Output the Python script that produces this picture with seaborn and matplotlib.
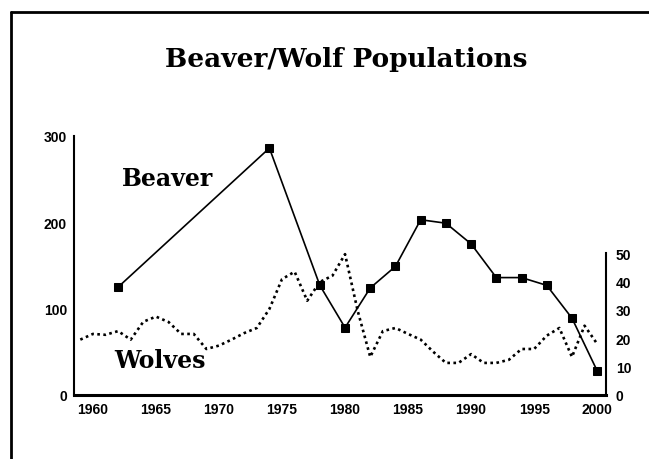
import seaborn as sns
import matplotlib.pyplot as plt
from matplotlib.lines import Line2D

# beaver counts (left axis)
beaver_years = [1962, 1974, 1978, 1980, 1982, 1984, 1986, 1988, 1990, 1992, 1994, 1996, 1998, 2000]
beaver_counts = [125, 286, 127, 78, 124, 149, 203, 199, 175, 136, 136, 127, 89, 28]

# wolf counts (right axis)
wolf_years = list(range(1959, 2001))
wolf_counts = [19.5, 21.5, 21.2, 22.5, 19.5, 25.8, 27.6, 25.7, 21.5, 21.5,
               16.2, 17.4, 19.5, 21.8, 23.6, 30.3, 40.8, 43.4, 33.2, 39.8,
               42.0, 49.6, 29.7, 13.4, 22.5, 23.6, 21.5, 19.5, 15.2, 11.3,
               11.3, 14.4, 11.3, 11.3, 12.4, 16.2, 16.2, 20.9, 23.6, 13.4,
               24.4, 18.0]

year_ticks = [1960, 1965, 1970, 1975, 1980, 1985, 1990, 1995, 2000]
beaver_ticks = [0, 100, 200, 300]
wolf_ticks = [0, 10, 20, 30, 40, 50]

sns.set_style("white")
plt.rcParams['font.family'] = ['Liberation Sans', 'DejaVu Sans']
plt.rcParams['text.color'] = 'black'
plt.rcParams['xtick.color'] = 'black'
plt.rcParams['ytick.color'] = 'black'

W, H = 649, 460
fig = plt.figure(figsize=(W / 100, H / 100), dpi=100)
ax = fig.add_axes([74 / W, 1 - 396 / H, (606 - 74) / W, (396 - 137) / H])

sns.lineplot(x=beaver_years, y=beaver_counts, ax=ax, color='black', linewidth=1.2,
             marker='s', markersize=6, markeredgecolor='black', zorder=3)
ax.set_xlim(1958.5, 2000.7)
ax.set_ylim(0, 300)
ax.set_xticks(year_ticks)
ax.set_yticks(beaver_ticks)
ax.tick_params(length=0, labelsize=10, pad=5)
for lbl in ax.get_xticklabels() + ax.get_yticklabels():
    lbl.set_fontweight('bold')
for s in ['top', 'right']:
    ax.spines[s].set_visible(False)
ax.spines['left'].set_linewidth(1.5)
ax.spines['bottom'].set_linewidth(2.2)
ax.spines['left'].set_color('black')
ax.spines['bottom'].set_color('black')

ax2 = ax.twinx()
sns.lineplot(x=wolf_years, y=wolf_counts, ax=ax2, color='black', linewidth=1.9,
             linestyle=(0, (1, 1.3)))
ax2.set_ylim(0, 50 * 259 / 142)
ax2.set_yticks(wolf_ticks)
ax2.tick_params(length=0, labelsize=10, pad=7)
for lbl in ax2.get_yticklabels():
    lbl.set_fontweight('bold')
for s in ['top', 'left', 'bottom']:
    ax2.spines[s].set_visible(False)
ax2.spines['right'].set_bounds(0, 50)
ax2.spines['right'].set_linewidth(1.5)
ax2.spines['right'].set_color('black')
ax2.set_ylabel('')

serif = ['DejaVu Serif']
ax.text(1962.3, 243, 'Beaver', fontsize=17, fontweight='bold', family=serif,
        color='black', ha='left', va='baseline', zorder=5)
ax.text(1961.7, 32, 'Wolves', fontsize=17, fontweight='bold', family=serif,
        color='black', ha='left', va='baseline', zorder=5)
fig.text(346 / W, 1 - 67 / H, 'Beaver/Wolf Populations', fontsize=19, fontweight='bold',
         family=serif, color='black', ha='center', va='baseline')

# page frame (runs off the right and bottom edges)
fx, fy = 11 / W, 1 - 13 / H
fig.add_artist(Line2D([fx, fx], [0, fy], transform=fig.transFigure, color='black', linewidth=2))
fig.add_artist(Line2D([fx, 1], [fy, fy], transform=fig.transFigure, color='black', linewidth=2))

fig.savefig('out.png', dpi=100)
